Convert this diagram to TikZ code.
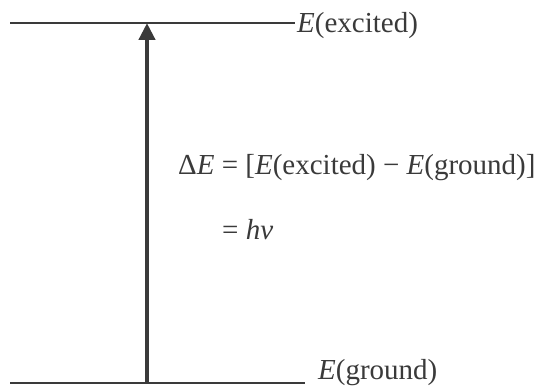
\documentclass[tikz,border=0pt]{standalone}
\usepackage{fontspec}
\setmainfont{Liberation Serif}
\usetikzlibrary{arrows.meta}
\definecolor{inkgray}{HTML}{3A3A3A}

\begin{document}
\begin{tikzpicture}[x=1pt,y=-1pt,
    every node/.style={font=\fontsize{29}{34}\selectfont, text=inkgray, inner sep=0pt},
    level/.style={draw=inkgray, line width=1.8pt},
    photon/.style={-{Triangle[length=17pt,width=16pt]}, draw=inkgray, line width=4.5pt},
]
    \useasboundingbox (0,0) rectangle (550,387);

    % Energy levels
    \coordinate (exl) at (10,23);
    \coordinate (exr) at (295,23);
    \coordinate (gnl) at (10,383);
    \coordinate (gnr) at (305,383);

    \node[anchor=base west] (exc) at (297,33)  {\textit{E}(excited)};
    \node[anchor=base west] (gnd) at (318,380) {\textit{E}(ground)};

    \draw[level] (exl) -- (exr);
    \draw[level] (gnl) -- (gnr);

    % Transition
    \coordinate (up0) at (147,383);
    \coordinate (up1) at (147,23);
    \draw[photon] (up0) -- (up1);

    % Energy gap
    \node[anchor=base west] (gap) at (178,175) {Δ\textit{E} = [\textit{E}(excited) − \textit{E}(ground)]};
    \node[anchor=base west] (hnu) at (222,240) {= \textit{hν}};

\end{tikzpicture}
\end{document}
